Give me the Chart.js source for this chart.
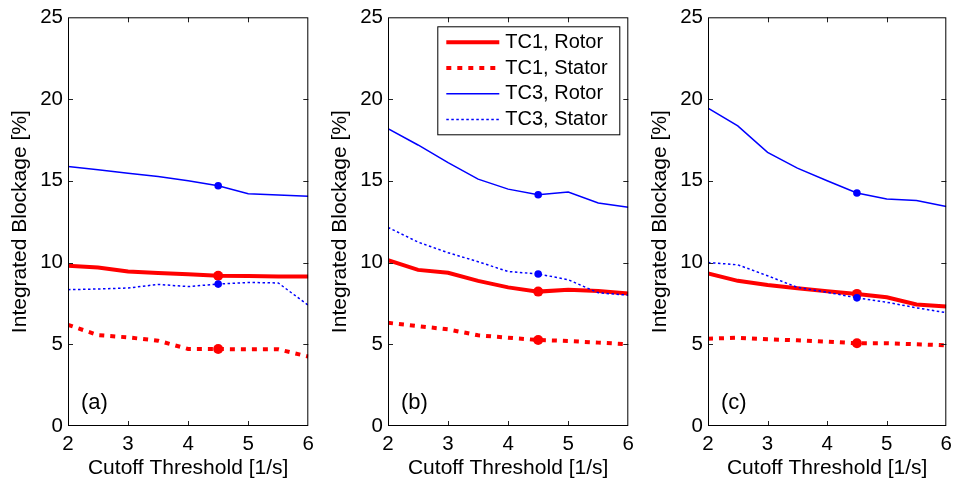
<!DOCTYPE html>
<html>
<head>
<meta charset="utf-8">
<script src="https://cdn.jsdelivr.net/npm/chart.js@4.4.0/dist/chart.umd.min.js"></script>
<style>
  html, body { margin: 0; padding: 0; background: #fff; }
  #wrap { position: relative; width: 958px; height: 481px; overflow: hidden; }
  canvas { position: absolute; top: 0; }
</style>
</head>
<body>
<div id="wrap">
  <canvas id="chartA" width="320" height="481" style="left:0px"></canvas>
  <canvas id="chartB" width="320" height="481" style="left:320px"></canvas>
  <canvas id="chartC" width="318" height="481" style="left:640px"></canvas>
</div>
<script>
// --------------------- data ---------------------
const cutoff = [2, 2.5, 3, 3.5, 4, 4.5, 5, 5.5, 6];
const markAt = 4.5;
const xTicks = [2, 3, 4, 5, 6];
const yTicks = [0, 5, 10, 15, 20, 25];
const seriesNames = ["TC1, Rotor", "TC1, Stator", "TC3, Rotor", "TC3, Stator"];
const panelNames = ["(a)", "(b)", "(c)"];

// panel (a)
const tc1RotorA  = [9.80, 9.70, 9.45, 9.36, 9.29, 9.19, 9.17, 9.15, 9.15];
const tc1StatorA = [6.19, 5.56, 5.42, 5.22, 4.71, 4.71, 4.69, 4.69, 4.25];
const tc3RotorA  = [15.87, 15.67, 15.46, 15.26, 15.00, 14.70, 14.21, 14.13, 14.05];
const tc3StatorA = [8.34, 8.38, 8.44, 8.66, 8.53, 8.68, 8.78, 8.75, 7.38];

// panel (b)
const tc1RotorB  = [10.14, 9.55, 9.37, 8.88, 8.48, 8.22, 8.34, 8.26, 8.11];
const tc1StatorB = [6.31, 6.11, 5.91, 5.55, 5.40, 5.26, 5.20, 5.10, 5.00];
const tc3RotorB  = [18.19, 17.19, 16.11, 15.10, 14.49, 14.15, 14.31, 13.64, 13.38];
const tc3StatorB = [12.15, 11.25, 10.60, 10.05, 9.45, 9.30, 8.95, 8.15, 8.00];

// panel (c)
const tc1RotorC  = [9.33, 8.88, 8.62, 8.42, 8.24, 8.08, 7.87, 7.43, 7.31];
const tc1StatorC = [5.34, 5.40, 5.30, 5.24, 5.16, 5.06, 5.06, 5.00, 4.94];
const tc3RotorC  = [19.45, 18.36, 16.74, 15.77, 15.00, 14.25, 13.88, 13.79, 13.42];
const tc3StatorC = [10.00, 9.86, 9.19, 8.48, 8.18, 7.84, 7.57, 7.23, 6.93];

// --------------------- styles ---------------------
const FONT = "'Liberation Sans', Arial, Helvetica, sans-serif";
const lineStyles = [
  { color: "#ff0000", width: 4,   dash: [],      marker: 5,   order: 3 },
  { color: "#ff0000", width: 4,   dash: [5, 6],  marker: 5,   order: 2 },
  { color: "#0000ff", width: 1.5, dash: [],      marker: 3.8, order: 1 },
  { color: "#0000ff", width: 1.5, dash: [2.5, 2.5], marker: 3.8, order: 0 },
];

Chart.defaults.color = "#000";
Chart.defaults.font.family = FONT;

// box around the plot + inward ticks on all four sides, panel tag, optional legend
const framePlugin = {
  id: "frame",
  afterDatasetsDraw(chart, args, opts) {
    const { ctx, chartArea: a, scales: { x, y } } = chart;
    ctx.save();
    ctx.strokeStyle = "#222";
    ctx.lineWidth = 1;
    ctx.beginPath();
    xTicks.slice(1, -1).forEach((v) => {
      const px = Math.round(x.getPixelForValue(v)) + 0.5;
      ctx.moveTo(px, a.bottom); ctx.lineTo(px, a.bottom - 5);
      ctx.moveTo(px, a.top); ctx.lineTo(px, a.top + 5);
    });
    yTicks.slice(1, -1).forEach((v) => {
      const py = Math.round(y.getPixelForValue(v)) + 0.5;
      ctx.moveTo(a.left, py); ctx.lineTo(a.left + 5, py);
      ctx.moveTo(a.right, py); ctx.lineTo(a.right - 5, py);
    });
    ctx.stroke();

    ctx.strokeStyle = "#000";
    ctx.strokeRect(a.left + 0.5, a.top + 0.5, a.right - a.left - 1, a.bottom - a.top - 1);

    // panel tag
    ctx.fillStyle = "#000";
    ctx.font = "22px " + FONT;
    ctx.textBaseline = "middle";
    ctx.textAlign = "left";
    ctx.fillText(opts.tag, a.left + 13, a.bottom - 23);

    if (opts.legend) {
      const bw = 182, bh = 108;
      const bx = a.right - 9 - bw, by = a.top + 9;
      ctx.fillStyle = "#fff";
      ctx.fillRect(bx, by, bw, bh);
      ctx.strokeStyle = "#000";
      ctx.lineWidth = 1;
      ctx.strokeRect(bx + 0.5, by + 0.5, bw, bh);
      ctx.font = "20px " + FONT;
      chart.data.datasets.forEach((ds, i) => {
        const ly = by + 16 + i * 25.7;
        ctx.strokeStyle = ds.borderColor;
        ctx.lineWidth = ds.borderWidth;
        ctx.setLineDash(ds.borderDash);
        ctx.beginPath();
        ctx.moveTo(bx + 9, ly);
        ctx.lineTo(bx + 62, ly);
        ctx.stroke();
        ctx.setLineDash([]);
        ctx.fillStyle = "#000";
        ctx.fillText(ds.label, bx + 68, ly);
      });
    }
    ctx.restore();
  },
};

function makeDatasets(seriesList) {
  return seriesList.map((values, i) => {
    const s = lineStyles[i];
    return {
      label: seriesNames[i],
      data: values.map((v, k) => ({ x: cutoff[k], y: v })),
      borderColor: s.color,
      backgroundColor: s.color,
      borderWidth: s.width,
      borderDash: s.dash,
      order: s.order,
      tension: 0,
      fill: false,
      pointRadius: (c) => (cutoff[c.dataIndex] === markAt ? s.marker : 0),
      pointHoverRadius: (c) => (cutoff[c.dataIndex] === markAt ? s.marker : 0),
      pointBackgroundColor: s.color,
      pointBorderWidth: 0,
    };
  });
}

function buildPanel(canvasId, seriesList, tag, showLegend, rightPad) {
  const ctx = document.getElementById(canvasId).getContext("2d");
  return new Chart(ctx, {
    type: "line",
    data: { datasets: makeDatasets(seriesList) },
    plugins: [framePlugin],
    options: {
      responsive: false,
      animation: false,
      devicePixelRatio: 1,
      layout: { padding: { top: 14, right: rightPad, bottom: 0, left: 0 } },
      plugins: {
        legend: { display: false },
        tooltip: { enabled: false },
        frame: { tag: tag, legend: showLegend },
      },
      scales: {
        x: {
          type: "linear",
          min: 2,
          max: 6,
          grid: { display: false, drawTicks: false },
          border: { display: false },
          afterBuildTicks: (scale) => { scale.ticks = xTicks.map((v) => ({ value: v })); },
          afterFit: (scale) => { scale.height = 55; },
          ticks: { autoSkip: false, maxRotation: 0, padding: 6, font: { size: 20.5 } },
          title: {
            display: true,
            text: "Cutoff Threshold [1/s]",
            font: { size: 21 },
            padding: { top: 0, bottom: 0 },
          },
        },
        y: {
          min: 0,
          max: 25,
          grid: { display: false, drawTicks: false },
          border: { display: false },
          afterBuildTicks: (scale) => { scale.ticks = yTicks.map((v) => ({ value: v })); },
          afterFit: (scale) => { scale.width = 68; },
          ticks: { padding: 5, font: { size: 20.5 } },
          title: {
            display: true,
            text: "Integrated Blockage [%]",
            font: { size: 21 },
            padding: { top: 8, bottom: 0 },
          },
        },
      },
    },
  });
}

window.onload = () => {
  buildPanel("chartA", [tc1RotorA, tc1StatorA, tc3RotorA, tc3StatorA], panelNames[0], false, 8);
  buildPanel("chartB", [tc1RotorB, tc1StatorB, tc3RotorB, tc3StatorB], panelNames[1], true, 8);
  buildPanel("chartC", [tc1RotorC, tc1StatorC, tc3RotorC, tc3StatorC], panelNames[2], false, 7);
};
</script>
</body>
</html>
